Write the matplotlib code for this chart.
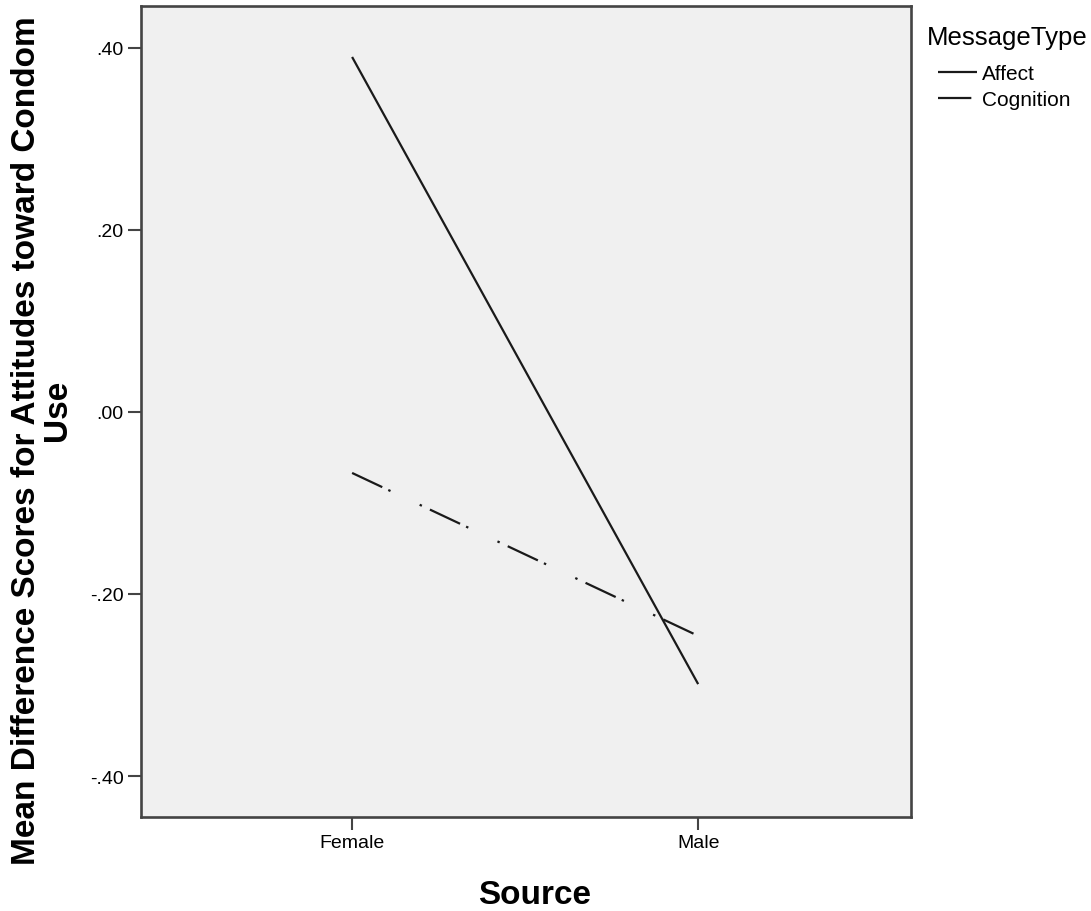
import matplotlib
matplotlib.use("Agg")
import matplotlib.pyplot as plt

plt.rcParams["font.family"] = ["Liberation Sans", "DejaVu Sans"]

# data
sources = ["Female", "Male"]
affect = [0.390, -0.299]
cognition = [-0.067, -0.246]
series_names = ["Affect", "Cognition"]
ytick_vals = [-0.40, -0.20, 0.00, 0.20, 0.40]
ytick_text = ["-.40", "-.20", ".00", ".20", ".40"]

W, H = 1091, 912
fig = plt.figure(figsize=(W / 100, H / 100), dpi=100)
ax = fig.add_axes([141 / W, 1 - 818 / H, (911 - 141) / W, (818 - 7) / H])
ax.set_facecolor("#f0f0f0")

xs = list(range(len(sources)))
line_col = "#1a1a1a"
ax.plot(xs, affect, color=line_col, lw=1.6, solid_capstyle="butt", label=series_names[0])
ax.plot(xs, cognition, color=line_col, lw=1.6,
        linestyle=(0, (15, 3, 1.1, 14.5, 1.1, 4)), label=series_names[1])

ax.set_xlim(-0.61, 1.615)
ax.set_ylim(-0.445, 0.446)
ax.set_xticks(xs)
ax.set_xticklabels(sources, fontsize=14)
ax.set_yticks(ytick_vals)
ax.set_yticklabels(ytick_text, fontsize=14)
ax.tick_params(length=9.5, width=1.5, color="#444444", pad=3)

for s in ax.spines.values():
    s.set_color("#444444")
    s.set_linewidth(1.9)

# axis titles (placed by their baselines)
fig.text(535 / W, 1 - 904 / H, "Source", fontsize=24, fontweight="bold",
         ha="center", va="baseline", rotation_mode="anchor")
fig.text(35 / W, 1 - 441 / H, "Mean Difference Scores for Attitudes toward Condom",
         fontsize=24, fontweight="bold", rotation=90, ha="center", va="baseline",
         rotation_mode="anchor")
fig.text(66 / W, 1 - 410 / H, "Use",
         fontsize=24, fontweight="bold", rotation=90, ha="center", va="baseline",
         rotation_mode="anchor")

fig.text(927 / W, 1 - 45 / H, "MessageType", fontsize=18.5, ha="left", va="baseline")
leg = fig.legend(loc="upper left", bbox_to_anchor=(938 / W, 1 - 65 / H),
                 frameon=False, fontsize=15, handlelength=1.85, handletextpad=0.25,
                 borderpad=0, borderaxespad=0, labelspacing=0.34)

fig.savefig("out.png", dpi=100)
